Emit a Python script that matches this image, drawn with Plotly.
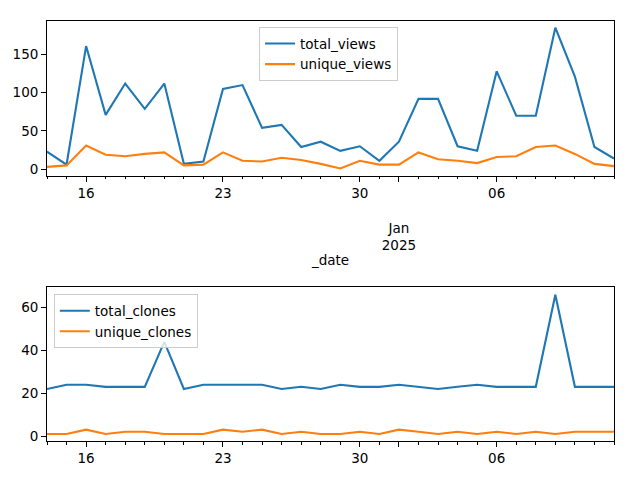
import pandas as pd
import plotly.graph_objects as go

# daily traffic, 2024-12-14 .. 2025-01-12
dates = pd.date_range("2024-12-14", "2025-01-12", freq="D")

total_views = [23, 6, 161, 71, 112, 79, 112, 7, 10, 105, 110, 54, 58, 29, 36,
               24, 30, 11, 36, 92, 92, 30, 24, 128, 70, 70, 185, 121, 29, 14]
unique_views = [3, 5, 31, 19, 17, 20, 22, 5, 6, 22, 11, 10, 15, 12, 7,
                1, 11, 6, 6, 22, 13, 11, 8, 16, 17, 29, 31, 20, 7, 4]

total_clones = [22, 24, 24, 23, 23, 23, 44, 22, 24, 24, 24, 24, 22, 23, 22,
                24, 23, 23, 24, 23, 22, 23, 24, 23, 23, 23, 66, 23, 23, 23]
unique_clones = [1, 1, 3, 1, 2, 2, 1, 1, 1, 3, 2, 3, 1, 2, 1,
                 1, 2, 1, 3, 2, 1, 2, 1, 2, 1, 2, 1, 2, 2, 2]

tick_dates = ["2024-12-16", "2024-12-23", "2024-12-30", "2025-01-01", "2025-01-06"]
tick_text_top = ["16", "23", "30", "<br><br>Jan<br>2025", "06"]
tick_text_bottom = ["16", "23", "30", "", "06"]

BLUE = "#1f77b4"
ORANGE = "#ff7f0e"
FONT = dict(family="DejaVu Sans", size=13.5, color="black")

fig = go.Figure()

fig.add_trace(go.Scatter(x=dates, y=total_views, mode="lines", name="total_views",
                         line=dict(color=BLUE, width=2.1), xaxis="x", yaxis="y",
                         legend="legend"))
fig.add_trace(go.Scatter(x=dates, y=unique_views, mode="lines", name="unique_views",
                         line=dict(color=ORANGE, width=2.1), xaxis="x", yaxis="y",
                         legend="legend"))
fig.add_trace(go.Scatter(x=dates, y=total_clones, mode="lines", name="total_clones",
                         line=dict(color=BLUE, width=2.1), xaxis="x2", yaxis="y2",
                         legend="legend2"))
fig.add_trace(go.Scatter(x=dates, y=unique_clones, mode="lines", name="unique_clones",
                         line=dict(color=ORANGE, width=2.1), xaxis="x2", yaxis="y2",
                         legend="legend2"))

common_axis = dict(
    showline=True, mirror=True, linecolor="black", linewidth=1.1,
    ticks="outside", ticklen=4.9, tickwidth=1.1, tickcolor="black",
    showgrid=False, zeroline=False, tickfont=FONT, automargin=False,
)
x_range = ["2024-12-14", "2025-01-12"]
minor = dict(ticks="outside", ticklen=2.8, tickwidth=1.1, tickcolor="black",
             dtick=86400000, tick0="2024-12-14", showgrid=False)

# the page body adds an 8px offset, so the figure is 632x472 and sits at (8, 8)
fig.update_layout(
    width=632, height=472,
    paper_bgcolor="white", plot_bgcolor="white",
    margin=dict(l=39, r=26, t=13, b=39),
    font=FONT,
    xaxis=dict(common_axis, domain=[0, 1], anchor="y", range=x_range,
               tickmode="array", tickvals=tick_dates, ticktext=tick_text_top,
               minor=minor,
               title=dict(text="_date", font=FONT, standoff=3)),
    yaxis=dict(common_axis, domain=[0.632, 1], anchor="x", range=[-8.3, 193.8],
               tickmode="array", tickvals=[0, 50, 100, 150]),
    xaxis2=dict(common_axis, domain=[0, 1], anchor="y2", range=x_range,
                tickmode="array", tickvals=tick_dates, ticktext=tick_text_bottom,
                minor=minor),
    yaxis2=dict(common_axis, domain=[0, 0.366], anchor="x2", range=[-2.3, 69.5],
                tickmode="array", tickvals=[0, 20, 40, 60]),
    legend=dict(x=0.374, y=0.985, xanchor="left", yanchor="top",
                bgcolor="rgba(255,255,255,0.8)", bordercolor="#cccccc",
                borderwidth=1, font=FONT),
    legend2=dict(x=0.012, y=0.349, xanchor="left", yanchor="top",
                 bgcolor="rgba(255,255,255,0.8)", bordercolor="#cccccc",
                 borderwidth=1, font=FONT),
)

fig.write_html("out.html")
